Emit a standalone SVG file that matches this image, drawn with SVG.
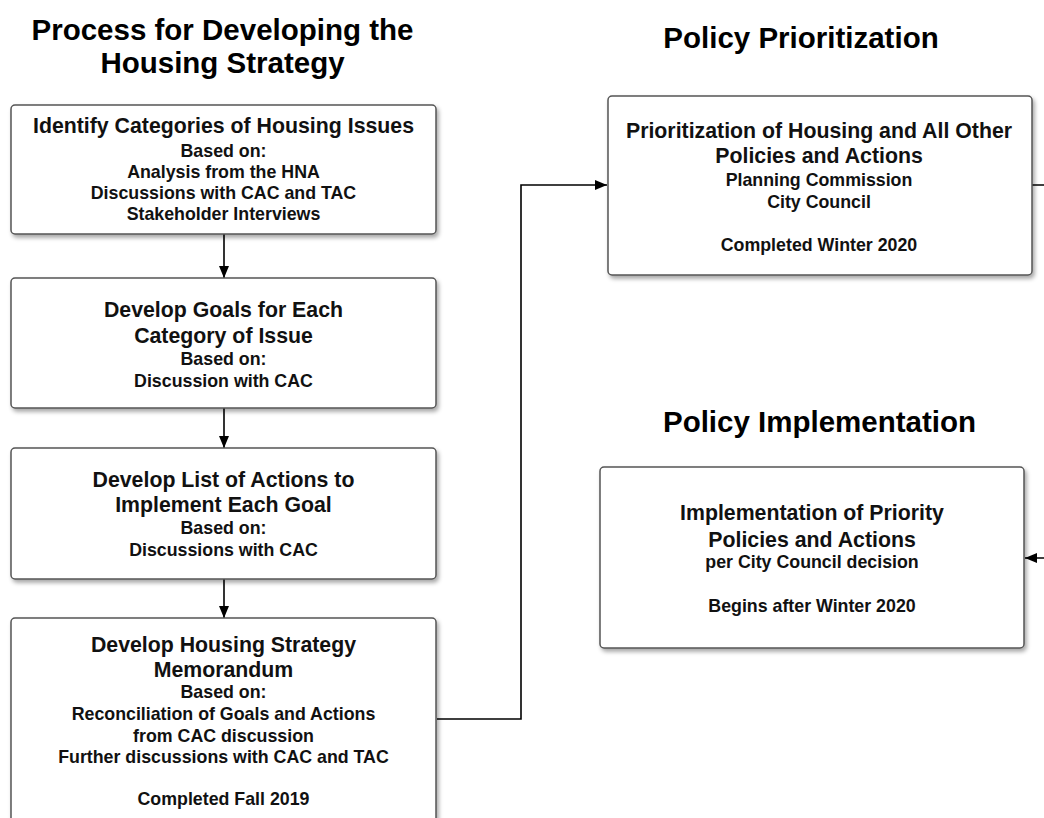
<svg xmlns="http://www.w3.org/2000/svg" width="1044" height="818" viewBox="0 0 1044 818">
<defs>
<filter id="sh" x="-5%" y="-5%" width="112%" height="115%">
<feDropShadow dx="2" dy="3" stdDeviation="2" flood-color="#000" flood-opacity="0.35"/>
</filter>
<marker id="ah" viewBox="0 0 12 10" refX="12" refY="5" markerWidth="12" markerHeight="10" markerUnits="userSpaceOnUse" orient="auto">
<path d="M0,0 L12,5 L0,10 Z" fill="#000"/>
</marker>
<style>
text{font-family:"Liberation Sans",Arial,sans-serif;font-weight:bold;fill:#111;text-anchor:middle}
.h{font-size:29.5px;fill:#000}
.m{font-size:21.3px}
.s{font-size:17.8px}
.box{fill:#fff;stroke:#555;stroke-width:1.5;filter:url(#sh)}
.c{fill:none;stroke:#000;stroke-width:1.6}
</style>
</defs>
<rect width="1044" height="818" fill="#fff"/>
<g id="titles">
<text class="h" x="222.5" y="40">Process for Developing the</text>
<text class="h" x="222.5" y="73">Housing Strategy</text>
<text class="h" x="801" y="48">Policy Prioritization</text>
<text class="h" x="819.5" y="432">Policy Implementation</text>
</g>
<g id="connectors">
<path class="c" d="M224,234 V278" marker-end="url(#ah)"/>
<path class="c" d="M224,408 V448" marker-end="url(#ah)"/>
<path class="c" d="M224,579 V618" marker-end="url(#ah)"/>
<path class="c" d="M437,719 H521 V185 H607" marker-end="url(#ah)"/>
<path class="c" d="M1032,185 H1070 V558 H1025" marker-end="url(#ah)"/>
</g>
<g id="n1">
<rect class="box" x="11" y="105" width="425" height="129" rx="4"/>
<text class="m" x="223.5" y="133">Identify Categories of Housing Issues</text>
<text class="s" x="223.5" y="157">Based on:</text>
<text class="s" x="223.5" y="178">Analysis from the HNA</text>
<text class="s" x="223.5" y="199">Discussions with CAC and TAC</text>
<text class="s" x="223.5" y="220">Stakeholder Interviews</text>
</g>
<g id="n2">
<rect class="box" x="11" y="278" width="425" height="130" rx="4"/>
<text class="m" x="223.5" y="317">Develop Goals for Each</text>
<text class="m" x="223.5" y="343">Category of Issue</text>
<text class="s" x="223.5" y="365">Based on:</text>
<text class="s" x="223.5" y="387">Discussion with CAC</text>
</g>
<g id="n3">
<rect class="box" x="11" y="448" width="425" height="131" rx="4"/>
<text class="m" x="223.5" y="487">Develop List of Actions to</text>
<text class="m" x="223.5" y="512">Implement Each Goal</text>
<text class="s" x="223.5" y="534">Based on:</text>
<text class="s" x="223.5" y="556">Discussions with CAC</text>
</g>
<g id="n4">
<rect class="box" x="11" y="618" width="425" height="230" rx="4"/>
<text class="m" x="223.5" y="652">Develop Housing Strategy</text>
<text class="m" x="223.5" y="677">Memorandum</text>
<text class="s" x="223.5" y="698">Based on:</text>
<text class="s" x="223.5" y="720">Reconciliation of Goals and Actions</text>
<text class="s" x="223.5" y="742">from CAC discussion</text>
<text class="s" x="223.5" y="763">Further discussions with CAC and TAC</text>
<text class="s" x="223.5" y="805">Completed Fall 2019</text>
</g>
<g id="n5">
<rect class="box" x="608" y="96" width="424" height="179" rx="4"/>
<text class="m" x="819" y="138">Prioritization of Housing and All Other</text>
<text class="m" x="819" y="163">Policies and Actions</text>
<text class="s" x="819" y="186">Planning Commission</text>
<text class="s" x="819" y="208">City Council</text>
<text class="s" x="819" y="251">Completed Winter 2020</text>
</g>
<g id="n6">
<rect class="box" x="600" y="467" width="424" height="181" rx="4"/>
<text class="m" x="812" y="520">Implementation of Priority</text>
<text class="m" x="812" y="547">Policies and Actions</text>
<text class="s" x="812" y="568">per City Council decision</text>
<text class="s" x="812" y="612">Begins after Winter 2020</text>
</g>
</svg>
